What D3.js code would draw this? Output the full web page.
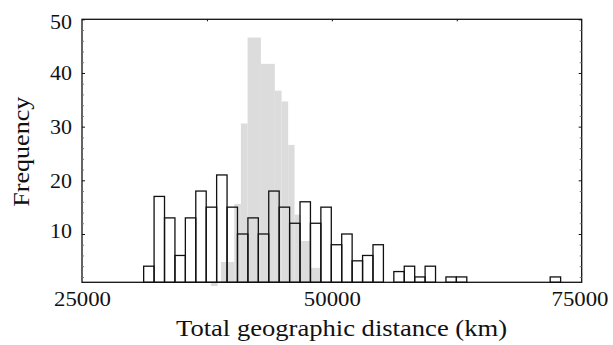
<!DOCTYPE html>
<html>
<head>
<meta charset="utf-8">
<script src="https://cdn.jsdelivr.net/npm/d3@7/dist/d3.min.js"></script>
<style>
  html, body { margin: 0; padding: 0; background: #fff; }
  svg { display: block; }
  svg text { font-family: "Liberation Serif", "Times New Roman", Times, serif; fill: #111; }
</style>
</head>
<body>
<svg id="chart" width="613" height="345"></svg>
<script>
// ---- Data ----
// Observed distribution: 40 equal bins starting at obsStart (km), width obsWidth (km)
const obsStart = 31170;
const obsWidth = 1043;
const obsCounts = [4, 17, 13, 6, 13, 18, 15, 21, 15, 10, 13, 10, 18, 15, 12, 16, 12, 15, 8, 10,
                   5, 6, 8, 1, 3, 4, 2, 4, 1, 2, 2, 0, 0, 0, 0, 0, 0, 0, 0, 2];

// Null (grey) distribution: bin lower edges, upper edges (km) and frequencies
const grayLo  = [37900, 38900, 40230, 40900, 41570, 42900, 44300, 44970, 45630, 46270, 46900, 47850];
const grayHi  = [38570, 40230, 40900, 41570, 42900, 44300, 44970, 45630, 46270, 46900, 47850, 48900];
const grayVal = [0.3,   4.8,   15.6,  30.6,  46.6,  41.7,  36.7,  34.7,  26.6,  13.6,  8.7,   3.7];

// Axis ticks and labels
const xDomain = [25000, 75000];
const yDomain = [1, 50];
const xLabelTicks = [25000, 50000, 75000];
const xTopTicks = [37500, 50000, 62500];
const yMajorTicks = [10, 20, 30, 40, 50];
const yMinorTicks = [2, 4, 6, 8, 12, 14, 16, 18, 22, 24, 26, 28, 32, 34, 36, 38, 42, 44, 46, 48];
const xTitle = "Total geographic distance (km)";
const yTitle = "Frequency";

// ---- Layout ----
const FONT = '"Liberation Serif", "Times New Roman", Times, serif';
const L = 82, R = 581.7, T = 19.3, B = 282.3;
const svg = d3.select("#chart");
const x = d3.scaleLinear().domain(xDomain).range([L, R]);
const y = d3.scaleLinear().domain(yDomain).range([B, T]);

// grey bars (drawn from the baseline; values below baseline hang beneath the axis)
svg.append("g").selectAll("rect")
  .data(grayVal.map((v, i) => ({ lo: grayLo[i], hi: grayHi[i], v })))
  .join("rect")
  .attr("x", d => x(d.lo))
  .attr("width", d => x(d.hi) - x(d.lo))
  .attr("y", d => Math.min(y(d.v), y(yDomain[0])))
  .attr("height", d => Math.abs(y(yDomain[0]) - y(d.v)))
  .attr("fill", "#dcdcdc");

// observed bars (outline only)
const obs = obsCounts.map((v, i) => ({ lo: obsStart + i * obsWidth, hi: obsStart + (i + 1) * obsWidth, v }))
  .filter(d => d.v > yDomain[0]);
svg.append("g").selectAll("rect")
  .data(obs)
  .join("rect")
  .attr("x", d => x(d.lo))
  .attr("width", d => x(d.hi) - x(d.lo))
  .attr("y", d => y(d.v))
  .attr("height", d => y(yDomain[0]) - y(d.v))
  .attr("fill", "none")
  .attr("stroke", "#111")
  .attr("stroke-width", 1.3);

// frame
svg.append("rect")
  .attr("x", L).attr("y", T).attr("width", R - L).attr("height", B - T)
  .attr("fill", "none").attr("stroke", "#111").attr("stroke-width", 1.3);

// y axis: major ticks + labels
const yLabelShift = { 50: 2, 10: -3.5 };
const gy = svg.append("g").attr("transform", `translate(${L},0)`)
  .call(d3.axisLeft(y).tickValues(yMajorTicks).tickSize(-3).tickPadding(10).tickFormat(d3.format("d")));
gy.select(".domain").remove();
gy.selectAll("line").attr("stroke", "#111");
gy.selectAll("text")
  .style("font-family", FONT)
  .attr("font-size", 20)
  .attr("dy", null)
  .attr("y", d => 7 + (yLabelShift[d] || 0))
  .attr("textLength", 22).attr("lengthAdjust", "spacingAndGlyphs");

const gym = svg.append("g").attr("transform", `translate(${L},0)`)
  .call(d3.axisLeft(y).tickValues(yMinorTicks).tickSize(-2).tickFormat(""));
gym.select(".domain").remove();
gym.selectAll("line").attr("stroke", "#777");

// right axis ticks
const gr = svg.append("g").attr("transform", `translate(${R},0)`)
  .call(d3.axisRight(y).tickValues(yMajorTicks).tickSize(-3).tickFormat(""));
gr.select(".domain").remove();
gr.selectAll("line").attr("stroke", "#111");
const grm = svg.append("g").attr("transform", `translate(${R},0)`)
  .call(d3.axisRight(y).tickValues(yMinorTicks).tickSize(-2).tickFormat(""));
grm.select(".domain").remove();
grm.selectAll("line").attr("stroke", "#777");

// top axis ticks
const gt = svg.append("g").attr("transform", `translate(0,${T})`)
  .call(d3.axisTop(x).tickValues(xTopTicks).tickSize(-2).tickFormat(""));
gt.select(".domain").remove();
gt.selectAll("line").attr("stroke", "#111");

// bottom axis labels
const gb = svg.append("g").attr("transform", `translate(0,${B})`)
  .call(d3.axisBottom(x).tickValues(xLabelTicks).tickSize(0).tickPadding(10).tickFormat(d3.format("d")));
gb.select(".domain").remove();
gb.selectAll("text")
  .style("font-family", FONT)
  .attr("font-size", 20)
  .attr("textLength", 57).attr("lengthAdjust", "spacingAndGlyphs")
  .attr("x", d => Math.min(0, 608 - 28.5 - x(d)));

// titles
svg.append("text")
  .attr("x", 341.5).attr("y", 336)
  .attr("text-anchor", "middle")
  .style("font-family", FONT)
  .attr("font-size", 22.5)
  .attr("textLength", 331).attr("lengthAdjust", "spacingAndGlyphs")
  .text(xTitle);

svg.append("text")
  .attr("transform", `translate(28.5,151.7) rotate(-90)`)
  .attr("text-anchor", "middle")
  .style("font-family", FONT)
  .attr("font-size", 22.5)
  .attr("textLength", 110).attr("lengthAdjust", "spacingAndGlyphs")
  .text(yTitle);
</script>
</body>
</html>
